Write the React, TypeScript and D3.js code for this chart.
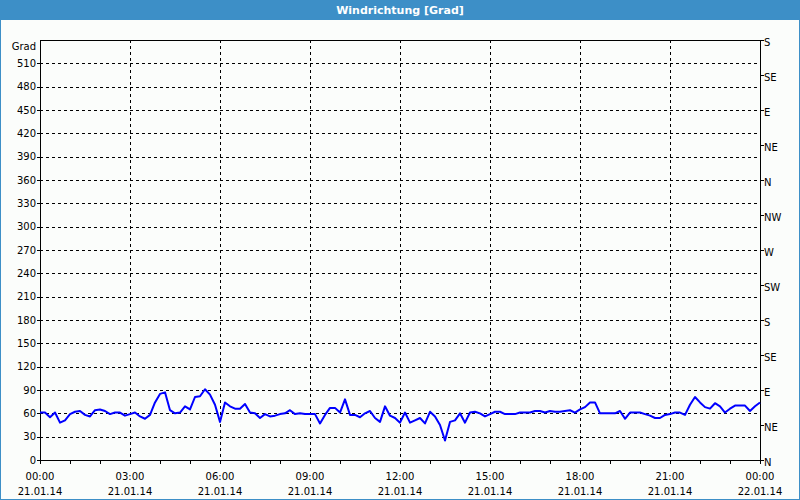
import React from "react";
import * as d3 from "d3";

const TITLE = "Windrichtung [Grad]";
const Y_UNIT = "Grad";
// wind direction every 10 minutes, 21.01.14 00:00 -> 22.01.14 00:00
const windValues: number[] = [
  61, 61, 55, 61, 48, 51, 59, 62, 63, 58, 56, 64, 65, 63, 59, 61, 61, 57, 59, 61,
  56, 53, 58, 74, 85, 87, 64, 60, 61, 69, 65, 81, 82, 91, 84, 71, 49, 74, 69, 66,
  66, 72, 61, 60, 54, 59, 56, 57, 59, 60, 64, 59, 60, 59, 59, 59, 47, 58, 67, 67,
  61, 78, 58, 58, 55, 60, 63, 54, 49, 69, 57, 54, 48, 61, 48, 51, 54, 47, 62, 56,
  45, 25, 49, 51, 60, 48, 61, 62, 60, 56, 59, 62, 62, 59, 59, 59, 61, 61, 61, 63,
  63, 61, 63, 62, 62, 63, 64, 61, 65, 68, 74, 74, 60, 60, 60, 60, 63, 53, 61, 61,
  61, 59, 57, 54, 54, 58, 59, 61, 61, 58, 71, 81, 74, 68, 66, 73, 69, 61, 66, 70,
  70, 70, 63, 69, 74,
];
const leftTicks: number[] = d3.range(0, 511, 30);
const compassTicks: number[] = d3.range(0, 541, 45);
const compassLabels: string[] = ["N", "NE", "E", "SE", "S", "SW", "W", "NW", "N", "NE", "E", "SE", "S"];
const timeLabels: string[] = ["00:00", "03:00", "06:00", "09:00", "12:00", "15:00", "18:00", "21:00", "00:00"];
const dateLabels: string[] = ["21.01.14", "21.01.14", "21.01.14", "21.01.14", "21.01.14", "21.01.14", "21.01.14", "21.01.14", "22.01.14"];

const W = 800, H = 500;
const L = 40, R = 760, T = 40, B = 460;
const FONT = "'DejaVu Sans', Verdana, sans-serif";

export default function App() {
  const x = d3.scaleLinear().domain([0, 24 * 60]).range([L, R]);
  const y = d3.scaleLinear().domain([0, 540]).range([B, T]);
  const line = d3
    .line<number>()
    .x((_, i) => x(i * 10))
    .y((d) => y(d));
  const hours = d3.range(0, 25);
  const majors = d3.range(0, 25, 3);
  return (
    <svg width={W} height={H} style={{ position: "absolute", left: 0, top: 0, display: "block" }}>
      <rect x={0} y={0} width={W} height={H} fill="#fbfdfb" />
      <rect x={0.5} y={0.5} width={W - 1} height={H - 1} fill="none" stroke="#3d8fc7" />
      <rect x={0} y={0} width={W} height={20} fill="#3d8fc7" />
      <text x={W / 2} y={14} textAnchor="middle" fill="#fff" fontFamily={FONT} fontSize={11} fontWeight="bold">
        {TITLE}
      </text>
      {/* grid */}
      {leftTicks.filter((v) => v > 0).map((v) => (
        <line key={"gy" + v} x1={L} x2={R} y1={Math.round(y(v)) + 0.5} y2={Math.round(y(v)) + 0.5}
          stroke="#000" strokeDasharray="3,3" />
      ))}
      {majors.filter((h) => h > 0 && h < 24).map((h) => (
        <line key={"gx" + h} x1={Math.round(x(h * 60)) + 0.5} x2={Math.round(x(h * 60)) + 0.5} y1={T} y2={B}
          stroke="#000" strokeDasharray="3,3" />
      ))}
      {/* frame */}
      <rect x={L + 0.5} y={T + 0.5} width={R - L} height={B - T} fill="none" stroke="#000" />
      {/* left ticks */}
      {leftTicks.map((v) => (
        <g key={"ly" + v}>
          <line x1={L - 3} x2={L} y1={Math.round(y(v)) + 0.5} y2={Math.round(y(v)) + 0.5} stroke="#000" />
          <text x={L - 4} y={y(v)} dy="0.35em" textAnchor="end" fontFamily={FONT} fontSize={10} fill="#000">
            {v}
          </text>
        </g>
      ))}
      <text x={L - 4} y={y(540) + 6} dy="0.35em" textAnchor="end" fontFamily={FONT} fontSize={10} fill="#000">
        {Y_UNIT}
      </text>
      {/* right compass ticks */}
      {compassTicks.map((v, i) => (
        <g key={"ry" + v}>
          <line x1={R} x2={R + 4} y1={Math.round(y(v)) + 0.5} y2={Math.round(y(v)) + 0.5} stroke="#000" />
          <text x={R + 4} y={y(v) + 2} dy="0.35em" textAnchor="start" fontFamily={FONT} fontSize={10} fill="#000">
            {compassLabels[i]}
          </text>
        </g>
      ))}
      {/* bottom ticks */}
      {hours.map((h) => (
        <line key={"bt" + h} x1={Math.round(x(h * 60)) + 0.5} x2={Math.round(x(h * 60)) + 0.5} y1={B} y2={B + 4}
          stroke="#000" />
      ))}
      {majors.map((h, i) => (
        <g key={"bl" + h}>
          <text x={x(h * 60)} y={476} dy="0.35em" textAnchor="middle" fontFamily={FONT} fontSize={10} fill="#000">
            {timeLabels[i]}
          </text>
          <text x={x(h * 60)} y={491} dy="0.35em" textAnchor="middle" fontFamily={FONT} fontSize={10} fill="#000">
            {dateLabels[i]}
          </text>
        </g>
      ))}
      <path d={line(windValues) || ""} fill="none" stroke="#0000ff" strokeWidth={2} strokeLinejoin="round" />
    </svg>
  );
}
